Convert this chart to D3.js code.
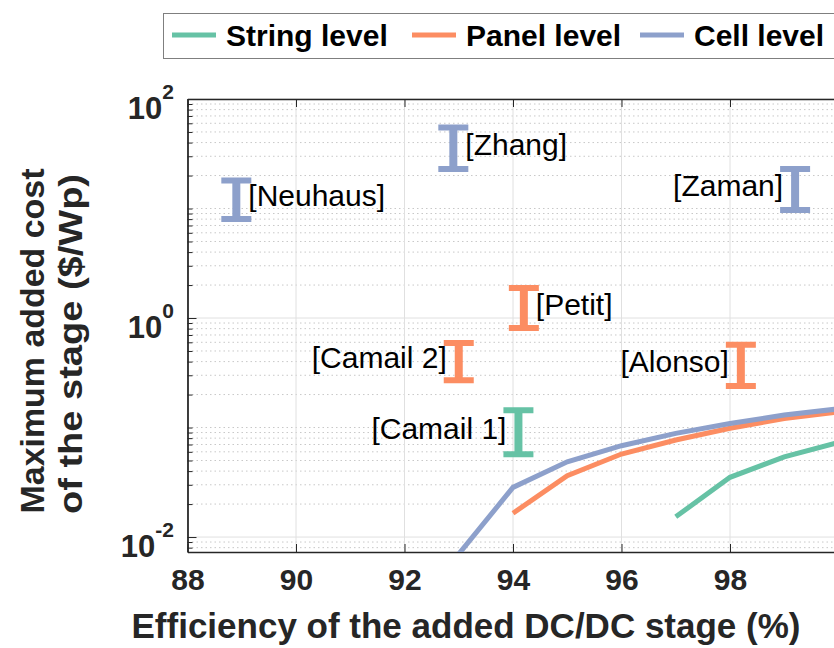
<!DOCTYPE html>
<html>
<head>
<meta charset="utf-8">
<title>Added DC/DC stage: cost vs efficiency</title>
<script src="https://d3js.org/d3.v7.min.js"></script>
<style>
  body { margin: 0; background: #fff; }
  text { font-family: 'Liberation Sans', Arial, sans-serif; }
</style>
</head>
<body>
<svg id="chart" width="834" height="648"></svg>
<script>
// curves: efficiency (%) -> max added cost ($/Wp)
var effString = [97, 98, 99, 100];
var costString = [0.0153, 0.0351, 0.054, 0.073];
var effPanel = [94, 95, 96, 97, 98, 99, 100];
var costPanel = [0.0165, 0.0363, 0.0573, 0.0769, 0.0984, 0.121, 0.139];
var effCell = [93, 94, 95, 96, 97, 98, 99, 100];
var costCell = [0.007, 0.0284, 0.0487, 0.0682, 0.0885, 0.109, 0.130, 0.148];

// literature ranges
var refNames = ["[Neuhaus]", "[Zhang]", "[Zaman]", "[Petit]", "[Camail 2]", "[Alonso]", "[Camail 1]"];
var refLevel = ["cell", "cell", "cell", "panel", "panel", "panel", "string"];
var refEff = [88.9, 92.9, 99.2, 94.2, 93.0, 98.2, 94.1];
var refLow = [8.0, 23, 9.7, 0.81, 0.27, 0.24, 0.057];
var refHigh = [18, 55, 23, 1.88, 0.59, 0.57, 0.144];

var xTicks = [88, 90, 92, 94, 96, 98];
var yTickExp = [-2, 0, 2];
var legendNames = ["String level", "Panel level", "Cell level"];

var colors = { string: "#66c2a5", panel: "#fc8d62", cell: "#8da0cb" };
var leftLabels = ["[Zaman]", "[Camail 2]", "[Alonso]", "[Camail 1]"];
var axisColor = "#262626";

var svg = d3.select("#chart");
var pLeft = 187.5, pRight = 838.5, pTop = 99, pBottom = 552;

var x = d3.scaleLinear().domain([88, 100]).range([pLeft, pRight]);
var y = d3.scaleLog().domain([0.0073, 100]).range([pBottom, pTop]);

svg.append("defs").append("clipPath").attr("id", "plotclip")
  .append("rect").attr("x", pLeft).attr("y", pTop)
  .attr("width", pRight - pLeft).attr("height", pBottom - pTop);

// minor log positions (1..9 x 10^k, skipping labelled decades)
var majors = yTickExp.map(function(e) { return Math.pow(10, e); });
var minors = [];
for (var k = -3; k <= 1; k++) {
  for (var m = 1; m <= 9; m++) {
    var v = m * Math.pow(10, k);
    if (v < 0.0073 || v > 100) continue;
    if (majors.some(function(M) { return Math.abs(M - v) / M < 1e-6; })) continue;
    minors.push(v);
  }
}

// grid
var grid = svg.append("g");
grid.selectAll(".minor").data(minors).enter().append("line")
  .attr("x1", pLeft).attr("x2", pRight)
  .attr("y1", function(d) { return y(d); }).attr("y2", function(d) { return y(d); })
  .attr("stroke", "#c8c8c8").attr("stroke-width", 1).attr("stroke-dasharray", "1.5,3");
grid.selectAll(".vx").data(xTicks).enter().append("line")
  .attr("x1", function(d) { return x(d); }).attr("x2", function(d) { return x(d); })
  .attr("y1", pTop).attr("y2", pBottom)
  .attr("stroke", "#e0e0e0").attr("stroke-width", 1);
grid.selectAll(".hy").data(majors).enter().append("line")
  .attr("x1", pLeft).attr("x2", pRight)
  .attr("y1", function(d) { return y(d); }).attr("y2", function(d) { return y(d); })
  .attr("stroke", "#e0e0e0").attr("stroke-width", 1);

// axes with inward ticks
function styleAxis(g) {
  g.selectAll("path").attr("stroke", axisColor).attr("stroke-width", 1.3);
  g.selectAll("line").attr("stroke", axisColor);
}
svg.append("g").attr("transform", "translate(0," + pBottom + ")")
  .call(d3.axisBottom(x).tickValues(xTicks).tickSize(-8).tickSizeOuter(0).tickPadding(17))
  .call(styleAxis)
  .call(function(g) {
    g.selectAll("text").attr("fill", axisColor).attr("font-size", 30)
      .attr("font-weight", "bold").attr("font-family", "'Liberation Sans', Arial, sans-serif");
  });
svg.append("g").attr("transform", "translate(0," + pTop + ")")
  .call(d3.axisTop(x).tickValues(xTicks).tickSize(-8).tickSizeOuter(0).tickFormat(""))
  .call(styleAxis);
svg.append("g").attr("transform", "translate(" + pLeft + ",0)")
  .call(d3.axisLeft(y).tickValues(majors).tickSize(-9).tickSizeOuter(0).tickFormat(""))
  .call(styleAxis);
svg.append("g").attr("transform", "translate(" + pLeft + ",0)")
  .call(d3.axisLeft(y).tickValues(minors).tickSize(-5).tickSizeOuter(0).tickFormat(""))
  .call(styleAxis);

// y tick labels 10^n
var yl = svg.append("g").selectAll("text").data(yTickExp).enter().append("text")
  .attr("x", 174).attr("y", function(d) { return y(Math.pow(10, d)) + 20; })
  .attr("text-anchor", "end").attr("font-weight", "bold").attr("fill", axisColor)
  .attr("font-size", 31);
yl.append("tspan").text("10");
yl.append("tspan").attr("dy", -20).attr("font-size", 21).text(function(d) { return d; });

// curves
var line = d3.line().x(function(d) { return x(d[0]); }).y(function(d) { return y(d[1]); });
var curves = [
  { key: "string", pts: d3.zip(effString, costString) },
  { key: "panel", pts: d3.zip(effPanel, costPanel) },
  { key: "cell", pts: d3.zip(effCell, costCell) }
];
svg.append("g").attr("clip-path", "url(#plotclip)")
  .selectAll("path").data(curves).enter().append("path")
  .attr("d", function(d) { return line(d.pts); })
  .attr("fill", "none").attr("stroke", function(d) { return colors[d.key]; })
  .attr("stroke-width", 5);

// literature error bars
var refs = refNames.map(function(n, i) {
  return { name: n, level: refLevel[i], eff: refEff[i], lo: refLow[i], hi: refHigh[i] };
});
var bars = svg.append("g").selectAll("g").data(refs).enter().append("g");
bars.append("path")
  .attr("d", function(d) { return "M" + x(d.eff) + "," + y(d.hi) + "V" + y(d.lo); })
  .attr("stroke", function(d) { return colors[d.level]; }).attr("stroke-width", 8);
bars.append("path")
  .attr("d", function(d) {
    var cx = x(d.eff);
    return "M" + (cx - 15) + "," + y(d.hi) + "H" + (cx + 15) +
           "M" + (cx - 15) + "," + y(d.lo) + "H" + (cx + 15);
  })
  .attr("stroke", function(d) { return colors[d.level]; }).attr("stroke-width", 6);
bars.append("text")
  .attr("x", function(d) { return leftLabels.indexOf(d.name) >= 0 ? x(d.eff) - 12 : x(d.eff) + 12; })
  .attr("y", function(d) { return y(Math.sqrt(d.lo * d.hi)) - 4; })
  .attr("dy", "0.35em")
  .attr("text-anchor", function(d) { return leftLabels.indexOf(d.name) >= 0 ? "end" : "start"; })
  .attr("font-size", 30).attr("fill", "#000")
  .text(function(d) { return d.name; });

// axis titles
svg.append("text").attr("x", 466).attr("y", 638).attr("text-anchor", "middle")
  .attr("font-size", 35).attr("font-weight", "bold").attr("fill", axisColor)
  .text("Efficiency of the added DC/DC stage (%)");
svg.append("text").attr("transform", "translate(44,341) rotate(-90)").attr("text-anchor", "middle")
  .attr("font-size", 34).attr("font-weight", "bold").attr("fill", axisColor)
  .attr("textLength", 345).attr("lengthAdjust", "spacingAndGlyphs")
  .text("Maximum added cost");
svg.append("text").attr("transform", "translate(82,344) rotate(-90)").attr("text-anchor", "middle")
  .attr("font-size", 34).attr("font-weight", "bold").attr("fill", axisColor)
  .attr("textLength", 340).attr("lengthAdjust", "spacingAndGlyphs")
  .text("of the stage ($/Wp)");

// legend
var lg = svg.append("g");
lg.append("rect").attr("x", 163.5).attr("y", 13.5).attr("width", 720).attr("height", 45)
  .attr("fill", "#fff").attr("stroke", "#7f7f7f").attr("stroke-width", 1);
var legX = [172, 412, 640];
var legKeys = ["string", "panel", "cell"];
legendNames.forEach(function(n, i) {
  lg.append("line").attr("x1", legX[i]).attr("x2", legX[i] + 44).attr("y1", 35).attr("y2", 35)
    .attr("stroke", colors[legKeys[i]]).attr("stroke-width", 5);
  lg.append("text").attr("x", legX[i] + 54).attr("y", 46)
    .attr("font-size", 30).attr("font-weight", "bold").attr("fill", "#000").text(n);
});
</script>
</body>
</html>
